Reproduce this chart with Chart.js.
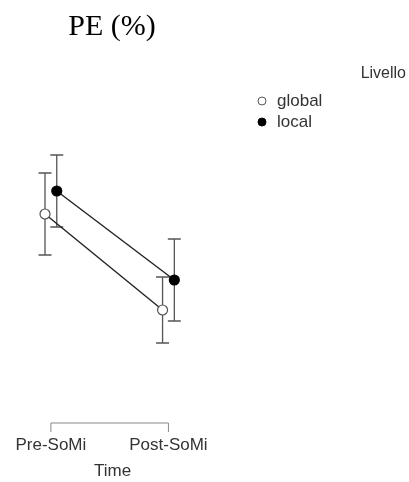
<!DOCTYPE html>
<html>
<head>
<meta charset="utf-8">
<script src="https://cdn.jsdelivr.net/npm/chart.js@4/dist/chart.umd.min.js"></script>
<style>
  html, body { margin: 0; padding: 0; background: #fff; }
  #wrap { width: 409px; height: 482px; }
</style>
</head>
<body>
<div id="wrap"><canvas id="c" width="409" height="482"></canvas></div>
<script>
// Time points and group levels
const categories = ['Pre-SoMi', 'Post-SoMi'];
const levels = ['global', 'local'];

// Mean PE (%) per time point
const globalMean = [13.6, 4.0];
const localMean = [15.9, 7.0];

// Error bar half-widths
const globalErr = [4.1, 3.3];
const localErr = [3.6, 4.1];

// Horizontal dodge between the two levels
const dodge = [-0.05, 0.05];

function toPoints(means, errs, shift) {
  return means.map((m, i) => ({ x: i + shift, y: m, lo: m - errs[i], hi: m + errs[i] }));
}

const errorBars = {
  id: 'errorBars',
  beforeDatasetsDraw(chart) {
    const { ctx, scales: { x, y } } = chart;
    ctx.save();
    ctx.strokeStyle = '#555';
    ctx.lineWidth = 1.3;
    chart.data.datasets.forEach(ds => {
      ds.data.forEach(p => {
        const px = x.getPixelForValue(p.x);
        const top = y.getPixelForValue(p.hi);
        const bot = y.getPixelForValue(p.lo);
        ctx.beginPath();
        ctx.moveTo(px, top); ctx.lineTo(px, bot);
        ctx.moveTo(px - 6.5, top); ctx.lineTo(px + 6.5, top);
        ctx.moveTo(px - 6.5, bot); ctx.lineTo(px + 6.5, bot);
        ctx.stroke();
      });
    });
    ctx.restore();
  }
};

// Bracket-style axis line spanning the first to last category
const bracketAxis = {
  id: 'bracketAxis',
  afterDraw(chart) {
    const { ctx, scales: { x }, chartArea } = chart;
    const y0 = chartArea.bottom;
    const x0 = x.getPixelForValue(0);
    const x1 = x.getPixelForValue(categories.length - 1);
    ctx.save();
    ctx.strokeStyle = '#888';
    ctx.lineWidth = 1;
    ctx.beginPath();
    ctx.moveTo(x0, y0 + 9); ctx.lineTo(x0, y0); ctx.lineTo(x1, y0); ctx.lineTo(x1, y0 + 9);
    ctx.stroke();
    ctx.restore();
  }
};

// Legend with a heading, drawn in the right margin
const sideLegend = {
  id: 'sideLegend',
  afterDraw(chart) {
    const { ctx } = chart;
    ctx.save();
    ctx.font = '16px "Liberation Sans", Arial, sans-serif';
    ctx.fillStyle = '#333';
    ctx.textBaseline = 'middle';
    ctx.textAlign = 'right';
    ctx.fillText('Livello', 406, 74);
    ctx.font = '17px "Liberation Sans", Arial, sans-serif';
    ctx.textAlign = 'left';
    chart.data.datasets.forEach((ds, i) => {
      const cy = 101 + i * 21;
      ctx.beginPath();
      ctx.arc(262, cy, 4, 0, Math.PI * 2);
      ctx.fillStyle = ds.pointBackgroundColor;
      ctx.fill();
      ctx.strokeStyle = ds.pointBorderColor;
      ctx.lineWidth = 1;
      ctx.stroke();
      ctx.fillStyle = '#333';
      ctx.fillText(ds.label, 277, cy);
    });
    ctx.restore();
  }
};

new Chart(document.getElementById('c'), {
  type: 'line',
  data: {
    datasets: [
      {
        label: levels[0],
        data: toPoints(globalMean, globalErr, dodge[0]),
        borderColor: '#222',
        borderWidth: 1.4,
        pointRadius: 5,
        pointBackgroundColor: '#ffffff',
        pointBorderColor: '#555',
        pointBorderWidth: 1.2
      },
      {
        label: levels[1],
        data: toPoints(localMean, localErr, dodge[1]),
        borderColor: '#222',
        borderWidth: 1.4,
        pointRadius: 5,
        pointBackgroundColor: '#000000',
        pointBorderColor: '#000000',
        pointBorderWidth: 1.2
      }
    ]
  },
  options: {
    responsive: false,
    animation: false,
    layout: { padding: { left: 5, right: 190, top: 0, bottom: 0 } },
    plugins: {
      legend: { display: false },
      tooltip: { enabled: false },
      title: {
        display: true,
        text: 'PE (%)',
        color: '#000',
        font: { family: '"Liberation Serif", "Times New Roman", serif', size: 30, weight: 'normal', lineHeight: 1.2 },
        padding: { top: 9, bottom: 15 }
      }
    },
    scales: {
      x: {
        type: 'linear',
        min: -0.38,
        max: 1.43,
        grid: { display: false, drawTicks: false },
        border: { display: false },
        afterBuildTicks(scale) { scale.ticks = categories.map((_, i) => ({ value: i })); },
        afterFit(scale) { scale.height = 59; },
        ticks: {
          padding: 12,
          color: '#333',
          font: { family: '"Liberation Sans", Arial, sans-serif', size: 17 },
          maxRotation: 0,
          autoSkip: false,
          callback: (v) => categories[v]
        },
        title: {
          display: true,
          text: 'Time',
          color: '#333',
          font: { family: '"Liberation Sans", Arial, sans-serif', size: 17 },
          padding: { top: 0, bottom: 0 }
        }
      },
      y: {
        display: false,
        min: -7.3,
        max: 29
      }
    }
  },
  plugins: [errorBars, bracketAxis, sideLegend]
});
</script>
</body>
</html>
